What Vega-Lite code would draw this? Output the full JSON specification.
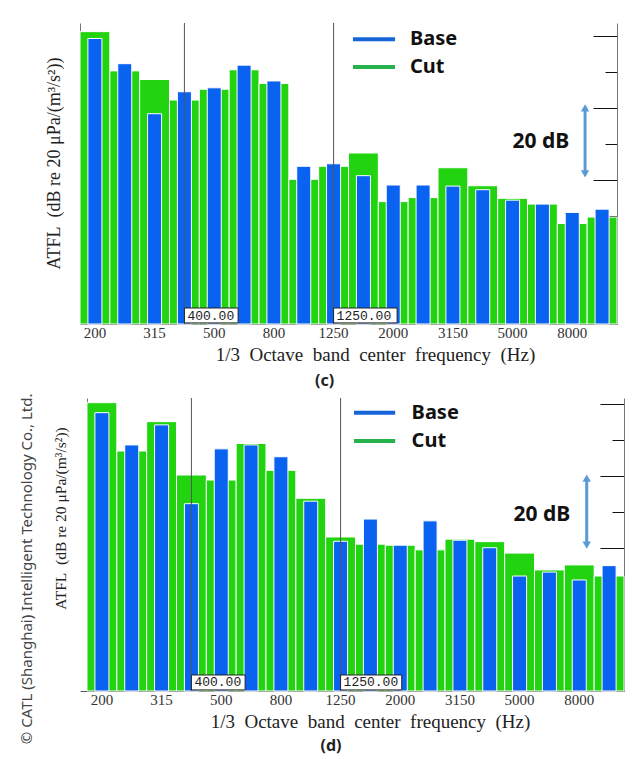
{
  "$schema": "https://vega.github.io/schema/vega-lite/v6.json",
  "background": "white",
  "padding": {"left": 19, "top": 22, "right": 0, "bottom": 0},
  "bounds": "flush",
  "spacing": 74,
  "config": {
    "view": {"stroke": null},
    "axisX": {"labelFont": "Liberation Serif", "labelFontSize": 15, "labelColor": "#333", "labelAngle": 0, "labelPadding": 20, "tickSize": -19, "tickColor": "#111", "bandPosition": 0.5, "domainColor": "#555", "titleFont": "Liberation Serif", "titleFontSize": 19, "titleFontWeight": "normal", "titleColor": "#222", "titlePadding": 5, "zindex": 1, "labelOverlap": false, "grid": false},
    "axisY": {"labels": false, "grid": false, "domainColor": "#777", "tickColor": "#111", "titleFont": "Liberation Serif", "titleFontSize": 18, "titleFontWeight": "normal", "titleColor": "#222", "titlePadding": 16}
  },
  "data": {"values": [
    {"p":"c","f":"200","s":"Cut","v":81.2},{"p":"c","f":"200","s":"Base","v":79.3},
    {"p":"c","f":"250","s":"Cut","v":70.3},{"p":"c","f":"250","s":"Base","v":72.3},
    {"p":"c","f":"315","s":"Cut","v":67.9},{"p":"c","f":"315","s":"Base","v":58.4},
    {"p":"c","f":"400","s":"Cut","v":62.2},{"p":"c","f":"400","s":"Base","v":64.5},
    {"p":"c","f":"500","s":"Cut","v":65.2},{"p":"c","f":"500","s":"Base","v":65.6},
    {"p":"c","f":"630","s":"Cut","v":70.6},{"p":"c","f":"630","s":"Base","v":71.9},
    {"p":"c","f":"800","s":"Cut","v":66.8},{"p":"c","f":"800","s":"Base","v":67.5},
    {"p":"c","f":"1000","s":"Cut","v":40.2},{"p":"c","f":"1000","s":"Base","v":43.8},
    {"p":"c","f":"1250","s":"Cut","v":43.8},{"p":"c","f":"1250","s":"Base","v":44.5},
    {"p":"c","f":"1600","s":"Cut","v":47.5},{"p":"c","f":"1600","s":"Base","v":41.2},
    {"p":"c","f":"2000","s":"Cut","v":34.0},{"p":"c","f":"2000","s":"Base","v":38.6},
    {"p":"c","f":"2500","s":"Cut","v":35.1},{"p":"c","f":"2500","s":"Base","v":38.6},
    {"p":"c","f":"3150","s":"Cut","v":43.4},{"p":"c","f":"3150","s":"Base","v":38.3},
    {"p":"c","f":"4000","s":"Cut","v":38.4},{"p":"c","f":"4000","s":"Base","v":37.3},
    {"p":"c","f":"5000","s":"Cut","v":34.9},{"p":"c","f":"5000","s":"Base","v":34.4},
    {"p":"c","f":"6300","s":"Cut","v":33.3},{"p":"c","f":"6300","s":"Base","v":33.3},
    {"p":"c","f":"8000","s":"Cut","v":27.9},{"p":"c","f":"8000","s":"Base","v":31.0},
    {"p":"c","f":"10000","s":"Cut","v":29.7},{"p":"c","f":"10000","s":"Base","v":31.9},
    {"p":"d","f":"200","s":"Cut","v":80.5},{"p":"d","f":"200","s":"Base","v":77.7},
    {"p":"d","f":"250","s":"Cut","v":67.0},{"p":"d","f":"250","s":"Base","v":68.7},
    {"p":"d","f":"315","s":"Cut","v":75.2},{"p":"d","f":"315","s":"Base","v":74.3},
    {"p":"d","f":"400","s":"Cut","v":60.3},{"p":"d","f":"400","s":"Base","v":52.3},
    {"p":"d","f":"500","s":"Cut","v":58.9},{"p":"d","f":"500","s":"Base","v":67.6},
    {"p":"d","f":"630","s":"Cut","v":69.1},{"p":"d","f":"630","s":"Base","v":68.7},
    {"p":"d","f":"800","s":"Cut","v":61.6},{"p":"d","f":"800","s":"Base","v":65.4},
    {"p":"d","f":"1000","s":"Cut","v":53.8},{"p":"d","f":"1000","s":"Base","v":53.0},
    {"p":"d","f":"1250","s":"Cut","v":43.0},{"p":"d","f":"1250","s":"Base","v":41.8},
    {"p":"d","f":"1600","s":"Cut","v":41.0},{"p":"d","f":"1600","s":"Base","v":48.0},
    {"p":"d","f":"2000","s":"Cut","v":40.7},{"p":"d","f":"2000","s":"Base","v":40.7},
    {"p":"d","f":"2500","s":"Cut","v":39.4},{"p":"d","f":"2500","s":"Base","v":47.5},
    {"p":"d","f":"3150","s":"Cut","v":42.4},{"p":"d","f":"3150","s":"Base","v":42.1},
    {"p":"d","f":"4000","s":"Cut","v":41.7},{"p":"d","f":"4000","s":"Base","v":40.0},
    {"p":"d","f":"5000","s":"Cut","v":38.5},{"p":"d","f":"5000","s":"Base","v":32.1},
    {"p":"d","f":"6300","s":"Cut","v":33.8},{"p":"d","f":"6300","s":"Base","v":33.2},
    {"p":"d","f":"8000","s":"Cut","v":35.2},{"p":"d","f":"8000","s":"Base","v":31.0},
    {"p":"d","f":"10000","s":"Cut","v":32.1},{"p":"d","f":"10000","s":"Base","v":35.0}
  ]},
  "vconcat": [
    {
      "width": 537, "height": 301,
      "title": {"text": "(c)", "orient": "bottom", "anchor": "middle", "frame": "group", "dx": -24, "offset": 9, "font": "Noto Sans", "fontSize": 16, "fontWeight": "bold", "color": "#222"},
      "resolve": {"axis": {"y": "independent"}},
      "layer": [
        {"transform": [{"filter": "datum.p == 'c' && datum.s == 'Cut'"}],
         "mark": {"type": "bar", "color": "#22d30f", "stroke": "white", "strokeWidth": 1},
         "encoding": {
           "x": {"field": "f", "type": "nominal", "scale": {"domain": ["200","250","315","400","500","630","800","1000","1250","1600","2000","2500","3150","4000","5000","6300","8000","10000"], "paddingInner": 0, "paddingOuter": 0},
                 "axis": {"title": "1/3\u2002Octave\u2002band\u2002center\u2002frequency\u2002(Hz)", "titleX": 295, "labelExpr": "indexof(['200','315','500','800','1250','2000','3150','5000','8000'], datum.value) >= 0 ? datum.value : ''"}},
           "y": {"field": "v", "type": "quantitative", "scale": {"domain": [0, 83.6], "nice": false, "zero": true},
                 "axis": {"title": "ATFL\u2002(dB re 20 μPa/(m³/s²))", "titleY": 140, "values": [10,20,30,40,50,60,70,80], "tickSize": {"condition": {"test": "datum.value % 20 == 0", "value": -24}, "value": -12}}}
         }},
        {"transform": [{"filter": "datum.p == 'c' && datum.s == 'Base'"}],
         "mark": {"type": "bar", "color": "#0a62f0", "stroke": "white", "strokeWidth": 1, "width": {"band": 0.47}},
         "encoding": {
           "x": {"field": "f", "type": "nominal"},
           "y": {"field": "v", "type": "quantitative", "axis": {"orient": "right", "title": null, "values": [10,20,30,40,50,60,70,80], "tickSize": {"condition": {"test": "datum.value % 20 == 0", "value": -24}, "value": -12}}}
         }},
        {"data": {"values": [{}]}, "mark": {"type": "rule", "color": "#555", "strokeWidth": 1},
         "encoding": {"x": {"datum": "400", "bandPosition": 0.5}}},
        {"data": {"values": [{}]}, "mark": {"type": "rule", "color": "#555", "strokeWidth": 1},
         "encoding": {"x": {"datum": "1250", "bandPosition": 0.5}}},
        {"data": {"values": [{}]}, "mark": {"type": "rect", "fill": "white", "stroke": "#222", "strokeWidth": 1},
         "encoding": {"x": {"datum": "400", "bandPosition": 0.5}, "x2": {"datum": "630", "bandPosition": 0.30}, "y": {"datum": 0.3, "type": "quantitative", "axis": null}, "y2": {"datum": 4.44}}},
        {"data": {"values": [{}]}, "mark": {"type": "text", "text": "400.00", "align": "left", "baseline": "middle", "dx": 3, "font": "Liberation Mono", "fontSize": 13, "color": "#222"},
         "encoding": {"x": {"datum": "400", "bandPosition": 0.5}, "y": {"datum": 2.36, "type": "quantitative", "axis": null}}},
        {"data": {"values": [{}]}, "mark": {"type": "rect", "fill": "white", "stroke": "#222", "strokeWidth": 1},
         "encoding": {"x": {"datum": "1250", "bandPosition": 0.5}, "x2": {"datum": "2000", "bandPosition": 0.63}, "y": {"datum": 0.3, "type": "quantitative", "axis": null}, "y2": {"datum": 4.44}}},
        {"data": {"values": [{}]}, "mark": {"type": "text", "text": "1250.00", "align": "left", "baseline": "middle", "dx": 3, "font": "Liberation Mono", "fontSize": 13, "color": "#222"},
         "encoding": {"x": {"datum": "1250", "bandPosition": 0.5}, "y": {"datum": 2.36, "type": "quantitative", "axis": null}}},
        {"data": {"values": [{}]}, "mark": {"type": "rule", "color": "#1565d8", "strokeWidth": 4},
         "encoding": {"x": {"datum": "1600", "bandPosition": 0.15}, "x2": {"datum": "2000", "bandPosition": 0.56}, "y": {"datum": 79.1, "type": "quantitative", "axis": null}}},
        {"data": {"values": [{}]}, "mark": {"type": "rule", "color": "#25b24a", "strokeWidth": 4},
         "encoding": {"x": {"datum": "1600", "bandPosition": 0.15}, "x2": {"datum": "2000", "bandPosition": 0.56}, "y": {"datum": 71.4, "type": "quantitative", "axis": null}}},
        {"data": {"values": [{}]}, "mark": {"type": "text", "text": "Base", "align": "left", "baseline": "middle", "font": "Noto Sans", "fontSize": 20, "fontWeight": "bold", "color": "#111"},
         "encoding": {"x": {"datum": "2500", "bandPosition": 0.06}, "y": {"datum": 79.1, "type": "quantitative", "axis": null}}},
        {"data": {"values": [{}]}, "mark": {"type": "text", "text": "Cut", "align": "left", "baseline": "middle", "font": "Noto Sans", "fontSize": 20, "fontWeight": "bold", "color": "#111"},
         "encoding": {"x": {"datum": "2500", "bandPosition": 0.06}, "y": {"datum": 71.4, "type": "quantitative", "axis": null}}},
        {"data": {"values": [{}]}, "mark": {"type": "text", "text": "20 dB", "align": "right", "baseline": "middle", "font": "Noto Sans", "fontSize": 21, "fontWeight": "bold", "color": "#111"},
         "encoding": {"x": {"datum": "8000", "bandPosition": 0.4}, "y": {"datum": 50.6, "type": "quantitative", "axis": null}}},
        {"data": {"values": [{}]}, "mark": {"type": "rule", "color": "#5b9bd5", "strokeWidth": 3},
         "encoding": {"x": {"datum": "8000", "bandPosition": 0.93}, "y": {"datum": 41.7, "type": "quantitative", "axis": null}, "y2": {"datum": 60.0}}},
        {"data": {"values": [{}]}, "mark": {"type": "point", "shape": "triangle-up", "filled": true, "size": 70, "color": "#5b9bd5", "opacity": 1},
         "encoding": {"x": {"datum": "8000", "bandPosition": 0.93}, "y": {"datum": 60.0, "type": "quantitative", "axis": null}}},
        {"data": {"values": [{}]}, "mark": {"type": "point", "shape": "triangle-down", "filled": true, "size": 70, "color": "#5b9bd5", "opacity": 1},
         "encoding": {"x": {"datum": "8000", "bandPosition": 0.93}, "y": {"datum": 41.7, "type": "quantitative", "axis": null}}}
      ]
    },
    {
      "width": 544, "height": 293,
      "title": {"text": "(d)", "orient": "bottom", "anchor": "middle", "frame": "group", "dx": -21, "offset": -6, "font": "Noto Sans", "fontSize": 16, "fontWeight": "bold", "color": "#222"},
      "resolve": {"axis": {"y": "independent"}},
      "layer": [
        {"transform": [{"filter": "datum.p == 'd' && datum.s == 'Cut'"}],
         "mark": {"type": "bar", "color": "#22d30f", "stroke": "white", "strokeWidth": 1},
         "encoding": {
           "x": {"field": "f", "type": "nominal", "scale": {"domain": ["200","250","315","400","500","630","800","1000","1250","1600","2000","2500","3150","4000","5000","6300","8000","10000"], "paddingInner": 0, "paddingOuter": 0.1173, "align": 1},
                 "axis": {"title": "1/3\u2002Octave\u2002band\u2002center\u2002frequency\u2002(Hz)", "titleX": 290, "labelExpr": "indexof(['200','315','500','800','1250','2000','3150','5000','8000'], datum.value) >= 0 ? datum.value : ''"}},
           "y": {"field": "v", "type": "quantitative", "scale": {"domain": [0, 81.8], "nice": false, "zero": true},
                 "axis": {"title": "ATFL\u2002(dB re 20 μPa/(m³/s²))", "titleFontSize": 15.5, "titleY": 120, "titlePadding": 18, "offset": -7, "values": [10,20,30,40,50,60,70,80], "tickSize": {"condition": {"test": "datum.value % 20 == 0", "value": -24}, "value": -12}}}
         }},
        {"transform": [{"filter": "datum.p == 'd' && datum.s == 'Base'"}],
         "mark": {"type": "bar", "color": "#0a62f0", "stroke": "white", "strokeWidth": 1, "width": {"band": 0.47}},
         "encoding": {
           "x": {"field": "f", "type": "nominal"},
           "y": {"field": "v", "type": "quantitative", "axis": {"orient": "right", "title": null, "values": [10,20,30,40,50,60,70,80], "tickSize": {"condition": {"test": "datum.value % 20 == 0", "value": -24}, "value": -12}}}
         }},
        {"data": {"values": [{}]}, "mark": {"type": "rule", "color": "#555", "strokeWidth": 1},
         "encoding": {"x": {"datum": "400", "bandPosition": 0.5}}},
        {"data": {"values": [{}]}, "mark": {"type": "rule", "color": "#555", "strokeWidth": 1},
         "encoding": {"x": {"datum": "1250", "bandPosition": 0.5}}},
        {"data": {"values": [{}]}, "mark": {"type": "rect", "fill": "white", "stroke": "#222", "strokeWidth": 1},
         "encoding": {"x": {"datum": "400", "bandPosition": 0.5}, "x2": {"datum": "630", "bandPosition": 0.30}, "y": {"datum": 0.3, "type": "quantitative", "axis": null}, "y2": {"datum": 4.47}}},
        {"data": {"values": [{}]}, "mark": {"type": "text", "text": "400.00", "align": "left", "baseline": "middle", "dx": 3, "font": "Liberation Mono", "fontSize": 13, "color": "#222"},
         "encoding": {"x": {"datum": "400", "bandPosition": 0.5}, "y": {"datum": 2.38, "type": "quantitative", "axis": null}}},
        {"data": {"values": [{}]}, "mark": {"type": "rect", "fill": "white", "stroke": "#222", "strokeWidth": 1},
         "encoding": {"x": {"datum": "1250", "bandPosition": 0.5}, "x2": {"datum": "2000", "bandPosition": 0.55}, "y": {"datum": 0.3, "type": "quantitative", "axis": null}, "y2": {"datum": 4.47}}},
        {"data": {"values": [{}]}, "mark": {"type": "text", "text": "1250.00", "align": "left", "baseline": "middle", "dx": 3, "font": "Liberation Mono", "fontSize": 13, "color": "#222"},
         "encoding": {"x": {"datum": "1250", "bandPosition": 0.5}, "y": {"datum": 2.38, "type": "quantitative", "axis": null}}},
        {"data": {"values": [{}]}, "mark": {"type": "rule", "color": "#1565d8", "strokeWidth": 4},
         "encoding": {"x": {"datum": "1250", "bandPosition": 0.95}, "x2": {"datum": "2000", "bandPosition": 0.33}, "y": {"datum": 77.7, "type": "quantitative", "axis": null}}},
        {"data": {"values": [{}]}, "mark": {"type": "rule", "color": "#25b24a", "strokeWidth": 4},
         "encoding": {"x": {"datum": "1250", "bandPosition": 0.95}, "x2": {"datum": "2000", "bandPosition": 0.33}, "y": {"datum": 69.8, "type": "quantitative", "axis": null}}},
        {"data": {"values": [{}]}, "mark": {"type": "text", "text": "Base", "align": "left", "baseline": "middle", "font": "Noto Sans", "fontSize": 20, "fontWeight": "bold", "color": "#111"},
         "encoding": {"x": {"datum": "2000", "bandPosition": 0.88}, "y": {"datum": 77.7, "type": "quantitative", "axis": null}}},
        {"data": {"values": [{}]}, "mark": {"type": "text", "text": "Cut", "align": "left", "baseline": "middle", "font": "Noto Sans", "fontSize": 20, "fontWeight": "bold", "color": "#111"},
         "encoding": {"x": {"datum": "2000", "bandPosition": 0.88}, "y": {"datum": 69.8, "type": "quantitative", "axis": null}}},
        {"data": {"values": [{}]}, "mark": {"type": "text", "text": "20 dB", "align": "right", "baseline": "middle", "font": "Noto Sans", "fontSize": 21, "fontWeight": "bold", "color": "#111"},
         "encoding": {"x": {"datum": "8000", "bandPosition": 0.2}, "y": {"datum": 49.1, "type": "quantitative", "axis": null}}},
        {"data": {"values": [{}]}, "mark": {"type": "rule", "color": "#5b9bd5", "strokeWidth": 3},
         "encoding": {"x": {"datum": "8000", "bandPosition": 0.75}, "y": {"datum": 40.7, "type": "quantitative", "axis": null}, "y2": {"datum": 59.4}}},
        {"data": {"values": [{}]}, "mark": {"type": "point", "shape": "triangle-up", "filled": true, "size": 70, "color": "#5b9bd5", "opacity": 1},
         "encoding": {"x": {"datum": "8000", "bandPosition": 0.75}, "y": {"datum": 59.4, "type": "quantitative", "axis": null}}},
        {"data": {"values": [{}]}, "mark": {"type": "point", "shape": "triangle-down", "filled": true, "size": 70, "color": "#5b9bd5", "opacity": 1},
         "encoding": {"x": {"datum": "8000", "bandPosition": 0.75}, "y": {"datum": 40.7, "type": "quantitative", "axis": null}}},
        {"data": {"values": [{}]}, "mark": {"type": "text", "text": "© CATL (Shanghai) Intelligent Technology Co., Ltd.", "angle": 270, "align": "center", "baseline": "middle", "dy": -60, "font": "Noto Sans", "fontSize": 15, "color": "#444"},
         "encoding": {"x": {"datum": "200", "bandPosition": 0}, "y": {"datum": 34.1, "type": "quantitative", "axis": null}}}
      ]
    }
  ]
}
